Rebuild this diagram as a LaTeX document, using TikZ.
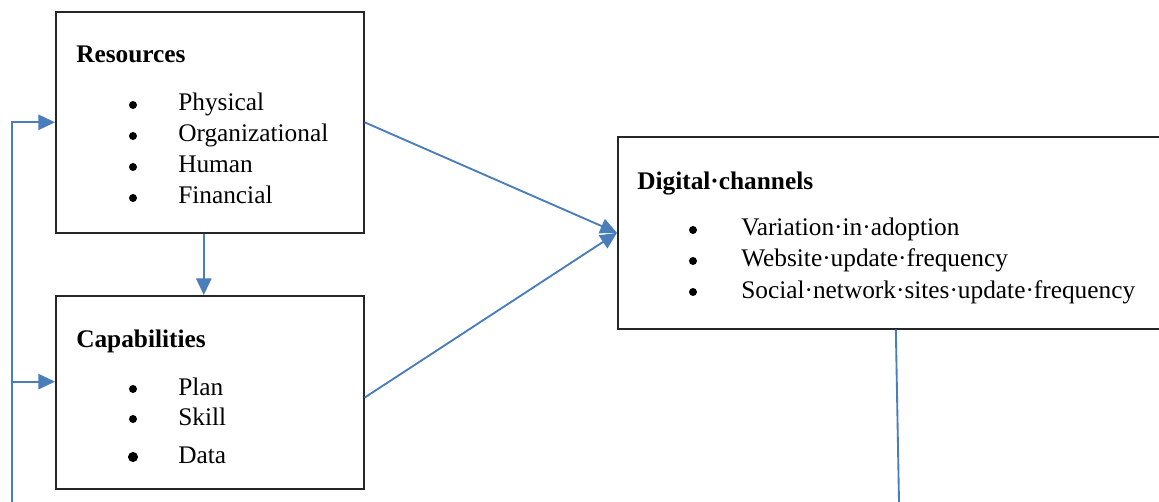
\documentclass[tikz,border=0pt]{standalone}
\usepackage{fontspec}
\setmainfont{Liberation Serif}[UprightFont=*, BoldFont=* Bold]
\newfontfamily\itemfont{Liberation Serif}
\usetikzlibrary{arrows.meta,positioning}
\definecolor{lnblue}{HTML}{4A7EBB}
\tikzset{
  % plain black frame, placed by its top left corner
  frame/.style = {rectangle, draw=black!85, line width=1.2pt, inner sep=0pt, anchor=north west},
  head/.style  = {anchor=base west, inner sep=0pt, font=\rmfamily\bfseries\fontsize{19}{23}\selectfont},
  item/.style  = {anchor=base west, inner sep=0pt, font=\itemfont\fontsize{19}{23}\selectfont},
  dot/.style   = {circle, fill=black, inner sep=0pt, minimum size=6pt},
  link/.style  = {-{Triangle[length=12.5pt,width=11.5pt]}, lnblue, line width=1.4pt},
  plain/.style = {lnblue, line width=1.4pt},
}

\begin{document}
\begin{tikzpicture}[x=0.75pt,y=-0.75pt]
\useasboundingbox (0,0) rectangle (1159,502);
% --- the three boxes ---------------------------------------------------
\node[frame, minimum width=231pt, minimum height=165.75pt] (res) at (55,11) {};
\node[frame, minimum width=231pt, minimum height=144.75pt] (cap) at (55,295) {};
\node[frame, minimum width=410.25pt, minimum height=144pt] (dig) at (617,136) {};
% --- resources ---------------------------------------------------------
\node[head] (res-title) at (76,63) {Resources};
\foreach \y/\t in {111/Physical,142/Organizational,173/Human,204/Financial}
  {\node[dot] (res-dot-\y) at (133,\y-6) {};
   \node[item] (res-\y) at (178,\y) {\t};}
% --- capabilities ------------------------------------------------------
\node[head] (cap-title) at (76,347) {Capabilities};
\foreach \y/\t in {395/Plan,425/Skill}
  {\node[dot] (cap-dot-\y) at (133,\y-6) {};
   \node[item] (cap-\y) at (178,\y) {\t};}
\node[dot, minimum size=7.6pt] (cap-dot-463) at (133,457) {};
\node[item] (cap-463) at (178,463) {Data};
% --- digital channels --------------------------------------------------
\node[head] (dig-title) at (637,190) {Digital·channels};
\foreach \y/\t in {236/Variation·in·adoption,267/Website·update·frequency,
                   298/Social·network·sites·update·frequency}
  {\node[dot] (dig-dot-\y) at (693,\y-6) {};
   \node[item] (dig-\y) at (741,\y) {\t};}
% --- connectors --------------------------------------------------------
\draw[link] (res.east) -- (dig.west);
\draw[link] ([yshift=-4pt]cap.east) -- (dig.west);
\draw[link] ([xshift=-4.5pt]res.south) -- ([xshift=-4.5pt]cap.north);
\coordinate (back) at (12,502);
\coordinate (cap-in) at ([yshift=8pt]cap.west);
\draw[link] (back) |- (res.west);
\draw[link] (back |- cap-in) -- (cap-in);
\coordinate (out) at (899,502);
\draw[plain] ([xshift=3.4pt]dig.south) -- (out);
\end{tikzpicture}
\end{document}
